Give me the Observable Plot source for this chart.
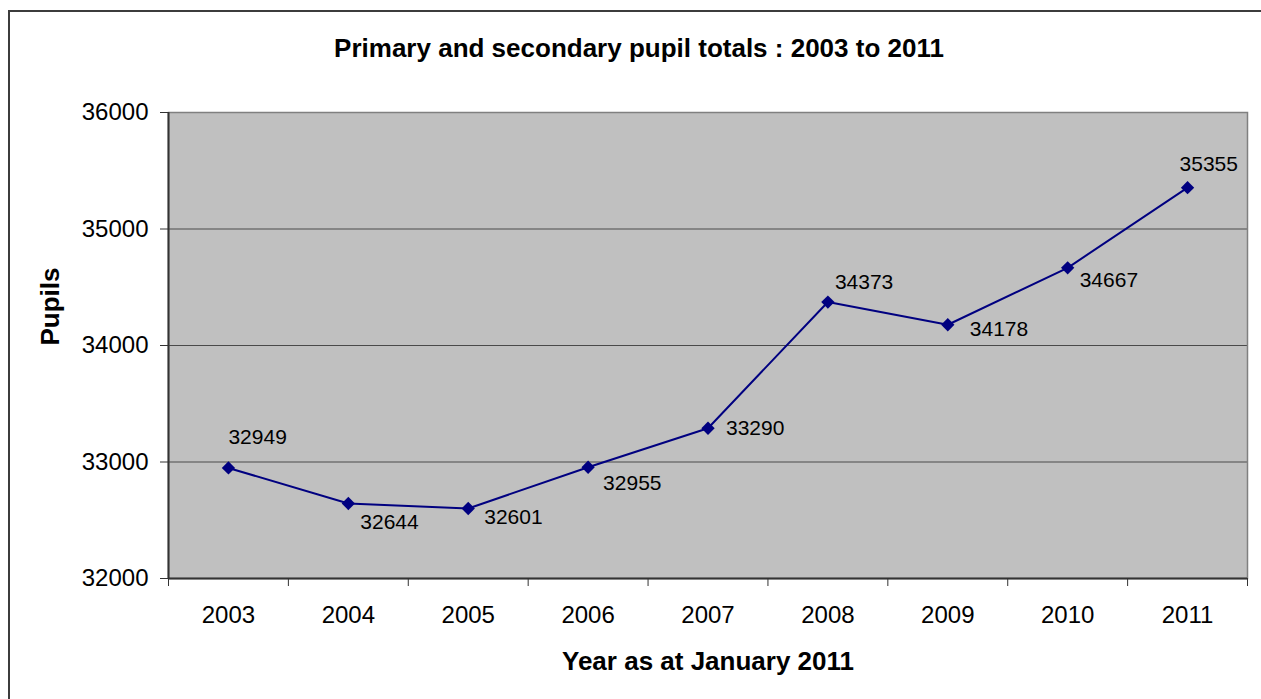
<!DOCTYPE html>
<html><head><meta charset="utf-8">
<script src="https://cdn.jsdelivr.net/npm/d3@7"></script>
<script src="https://cdn.jsdelivr.net/npm/@observablehq/plot@0.6"></script>
<style>
body{margin:0;background:#fff;font-family:"Liberation Sans",Arial,sans-serif}
#wrap{position:relative;width:1261px;height:699px;overflow:hidden}
#border{position:absolute;left:8px;top:10px;width:1300px;height:800px;border:2px solid #3c3c3c;pointer-events:none}
svg{display:block}
</style></head><body><div id="wrap"><div id="border"></div></div>
<script>
const years = [2003, 2004, 2005, 2006, 2007, 2008, 2009, 2010, 2011];
const pupils = [32949, 32644, 32601, 32955, 33290, 34373, 34178, 34667, 35355];
const yTicks = [32000, 33000, 34000, 35000, 36000];
const title = "Primary and secondary pupil totals : 2003 to 2011";
const xTitle = "Year as at January 2011";
const yTitle = "Pupils";

// label placement offsets (pixels) per data label, as in the reference
const labelDx = [0, 12, 16, 15, 18, 7, 22, 12, -8];
const labelDy = [-31, 19, 9, 16, 0, -20, 5, 12, -23];

const data = years.map((year, i) => ({year, value: pupils[i]}));
const bounds = years.map(y => y - 0.5).concat([years[years.length - 1] + 0.5]);

const chart = Plot.plot({
  width: 1261,
  height: 699,
  marginLeft: 168,
  marginRight: 14,
  marginTop: 112,
  marginBottom: 121,
  style: {fontFamily: "'Liberation Sans', Arial, sans-serif", color: "#000", background: "transparent"},
  x: {type: "linear", domain: [bounds[0], bounds[bounds.length - 1]]},
  y: {domain: [yTicks[0], yTicks[yTicks.length - 1]]},
  marks: [
    Plot.frame({fill: "#c0c0c0", stroke: null}),
    Plot.gridY({ticks: yTicks.slice(1, -1), stroke: "#4a4a4a", strokeOpacity: 1, strokeWidth: 1}),
    Plot.frame({stroke: "#808080", strokeWidth: 1.5}),
    Plot.ruleX([bounds[0]], {stroke: "#333", strokeWidth: 2}),
    Plot.ruleY([yTicks[0]], {stroke: "#333", strokeWidth: 2}),
    Plot.axisY({ticks: yTicks, tickSize: 8, tickPadding: 12, fontSize: 24, label: null, stroke: "#333", tickFormat: d => String(d)}),
    Plot.axisX({ticks: bounds, tickSize: 8, tickFormat: () => "", label: null, stroke: "#333"}),
    Plot.axisX({ticks: years, tickSize: 0, tickPadding: 27, fontSize: 24, label: null, tickFormat: d => String(d)}),
    Plot.line(data, {x: "year", y: "value", stroke: "#000080", strokeWidth: 2}),
    Plot.dot(data, {x: "year", y: "value", symbol: "diamond2", r: 6, fill: "#000080", stroke: null}),
    ...data.map((d, i) => Plot.text([d], {x: "year", y: "value", text: d => String(d.value), dx: labelDx[i], dy: labelDy[i], textAnchor: "start", fontSize: 21, fill: "#000"})),
    Plot.text([title], {frameAnchor: "top", dx: -69, dy: -64, lineAnchor: "middle", fontSize: 26, fontWeight: "bold", fill: "#000"}),
    Plot.text([xTitle], {frameAnchor: "bottom", dy: 83, lineAnchor: "middle", fontSize: 26, fontWeight: "bold", fill: "#000"}),
    Plot.text([yTitle], {frameAnchor: "left", dx: -118, rotate: -90, lineAnchor: "middle", fontSize: 26, fontWeight: "bold", fill: "#000"})
  ]
});
document.getElementById("wrap").prepend(chart);
</script>
</body></html>
